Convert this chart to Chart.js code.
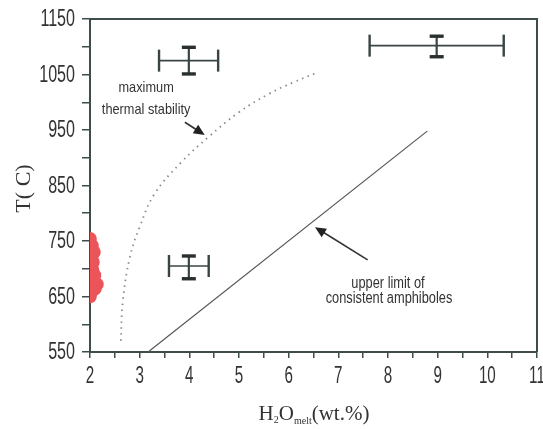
<!DOCTYPE html>
<html>
<head>
<meta charset="utf-8">
<script src="https://cdn.jsdelivr.net/npm/chart.js@4.4.0/dist/chart.umd.min.js"></script>
<style>
  html,body{margin:0;padding:0;background:#fff;overflow:hidden;}
  #wrap{width:543px;height:429px;position:relative;}
</style>
</head>
<body>
<div id="wrap"><canvas id="c"></canvas></div>
<script>
// ---- data ----
const redX = [2.00, 2.04, 2.08, 2.03, 1.99, 2.05, 2.09, 2.00, 2.14, 2.10, 2.04, 2.00, 2.06];
const redY = [754, 742, 730, 716, 704, 698, 688, 678, 672, 664, 660, 650, 712];

const stabX = [2.62, 2.66, 2.80, 3.00, 3.30, 3.85, 4.38, 5.00, 5.60, 6.10, 6.59];
const stabY = [570, 640, 720, 775, 835, 893, 937, 982, 1015, 1036, 1054];

const limitX = [3.17, 8.79];
const limitY = [550, 948];

// error crosses
const errX   = [3.99, 8.98, 3.99];
const errXLo = [3.39, 7.63, 3.59];
const errXHi = [4.58, 10.33, 4.39];
const errY   = [1075, 1102, 705];
const errYLo = [1051, 1082, 682];
const errYHi = [1099, 1119, 723];

const xTicks = [2, 3, 4, 5, 6, 7, 8, 9, 10, 11];
const yTicks = [550, 650, 750, 850, 950, 1050, 1150];

// annotations (data coords)
const noteText = ['maximum', 'thermal stability', 'upper limit of', 'consistent amphiboles'];
const noteX = [3.13, 3.13, 8.0, 8.02];
const noteY = [1026, 986, 674, 647];
const arrowFrom = [[3.91, 964], [7.59, 716]];
const arrowTo   = [[4.31, 941], [6.53, 775]];

const AX = '#3f4c4c';
const SANS = "'Liberation Sans', Arial, sans-serif";
const SERIF = "'Liberation Serif', 'DejaVu Serif', serif";

// narrow text: normal sans squeezed horizontally
function narrowText(ctx, t, x, y, sx, align){
  ctx.save();
  ctx.translate(x, y);
  ctx.scale(sx, 1);
  ctx.textAlign = align;
  ctx.fillText(t, 0, 0);
  ctx.restore();
}

const datasets = [];
datasets.push({
  type:'line', label:'stability',
  data: stabX.map((x,i)=>({x, y:stabY[i]})),
  borderColor:'#8a8a8a', borderWidth:1.8, borderDash:[1.5,4.5],
  pointRadius:0, tension:0.4, fill:false
});
datasets.push({
  type:'line', label:'limit',
  data: limitX.map((x,i)=>({x, y:limitY[i]})),
  borderColor:'#555', borderWidth:1.2, pointRadius:0, fill:false
});
errX.forEach((x,i)=>{
  datasets.push({
    type:'line', label:'errH'+i,
    data:[{x:errXLo[i], y:errY[i]}, {x:errXHi[i], y:errY[i]}],
    borderColor:'#3a4444', borderWidth:1.6,
    pointStyle:'line', rotation:90, pointRadius:11,
    pointBorderColor:'#3a4444', pointBorderWidth:2.4, pointHoverRadius:11
  });
  datasets.push({
    type:'line', label:'errV'+i,
    data:[{x, y:errYLo[i]}, {x, y:errYHi[i]}],
    borderColor:'#3a4444', borderWidth:2.2,
    pointStyle:'line', rotation:0, pointRadius:7,
    pointBorderColor:'#2a3030', pointBorderWidth:3.4, pointHoverRadius:7
  });
});
datasets.push({
  type:'scatter', label:'samples',
  data: redX.map((x,i)=>({x, y:redY[i]})),
  backgroundColor:'#eb5458', borderWidth:0, pointRadius:6.8
});

const overlay = {
  id:'overlay',
  afterDraw(chart){
    const {ctx, chartArea:a, scales:{x, y}} = chart;
    ctx.save();
    // top and right frame
    ctx.strokeStyle = AX; ctx.lineWidth = 2;
    ctx.beginPath();
    ctx.moveTo(a.left, a.top); ctx.lineTo(a.right, a.top); ctx.lineTo(a.right, a.bottom);
    ctx.stroke();

    // tick labels (condensed look)
    ctx.fillStyle = '#333';
    ctx.font = '23px ' + SANS;
    ctx.textBaseline = 'middle';
    yTicks.forEach(v => narrowText(ctx, String(v), 75, y.getPixelForValue(v) + 1, 0.7, 'right'));
    xTicks.forEach(v => narrowText(ctx, String(v), x.getPixelForValue(v), 377, 0.66, 'center'));

    // arrows
    ctx.strokeStyle = '#333'; ctx.fillStyle = '#222'; ctx.lineWidth = 1.6;
    arrowFrom.forEach((f,i)=>{
      const x0 = x.getPixelForValue(f[0]), y0 = y.getPixelForValue(f[1]);
      const x1 = x.getPixelForValue(arrowTo[i][0]), y1 = y.getPixelForValue(arrowTo[i][1]);
      const ang = Math.atan2(y1-y0, x1-x0);
      const L = 11, W = 5;
      ctx.beginPath(); ctx.moveTo(x0, y0);
      ctx.lineTo(x1 - Math.cos(ang)*L*0.8, y1 - Math.sin(ang)*L*0.8); ctx.stroke();
      ctx.beginPath();
      ctx.moveTo(x1, y1);
      ctx.lineTo(x1 - Math.cos(ang)*L - Math.sin(ang)*W, y1 - Math.sin(ang)*L + Math.cos(ang)*W);
      ctx.lineTo(x1 - Math.cos(ang)*L + Math.sin(ang)*W, y1 - Math.sin(ang)*L - Math.cos(ang)*W);
      ctx.closePath(); ctx.fill();
    });

    // notes
    ctx.fillStyle = '#333'; ctx.textBaseline = 'middle';
    noteText.forEach((t,i)=>{
      ctx.font = (i < 2 ? '15px ' : '16px ') + SANS;
      narrowText(ctx, t, x.getPixelForValue(noteX[i]), y.getPixelForValue(noteY[i]), i < 2 ? 0.85 : 0.8, 'center');
    });

    // y title
    ctx.save();
    ctx.translate(24, (a.top + a.bottom)/2 + 3);
    ctx.rotate(-Math.PI/2);
    ctx.font = '22px ' + SERIF;
    ctx.fillStyle = '#333';
    ctx.textAlign = 'center';
    ctx.fillText('T( C)', 0, 0);
    ctx.restore();

    // x title with subscripts
    const big = '21px ' + SERIF;
    const small = '10px ' + SERIF;
    const parts = [['H',big,0],['2',small,3],['O',big,0],['melt',small,4],['(wt.%)',big,0]];
    let w = 0;
    parts.forEach(p=>{ ctx.font = p[1]; w += ctx.measureText(p[0]).width; });
    let cx = 314 - w/2;
    const base = 420;
    ctx.textAlign = 'left'; ctx.textBaseline = 'alphabetic';
    parts.forEach(p=>{
      ctx.font = p[1];
      ctx.fillText(p[0], cx, base + p[2]);
      cx += ctx.measureText(p[0]).width;
    });
    ctx.restore();
  }
};

new Chart(document.getElementById('c'), {
  type:'scatter',
  data:{datasets},
  options:{
    responsive:true, maintainAspectRatio:false, animation:false,
    layout:{autoPadding:false, padding:{left:0, top:19, right:6, bottom:0}},
    plugins:{legend:{display:false}, tooltip:{enabled:false}},
    scales:{
      x:{
        type:'linear', min:2, max:11,
        border:{color:AX, width:2},
        grid:{drawOnChartArea:false, color:AX, tickLength:6, lineWidth:1.5},
        ticks:{stepSize:0.5, autoSkip:false, maxRotation:0, display:false},
        afterFit:s => { s.height = 77; s.paddingRight = 0; s.paddingLeft = 0; }
      },
      y:{
        type:'linear', min:550, max:1150,
        border:{color:AX, width:2},
        grid:{drawOnChartArea:false, color:AX, tickLength:8, lineWidth:1.5},
        ticks:{stepSize:50, autoSkip:false, display:false},
        afterFit:s => { s.width = 90; s.paddingTop = 0; s.paddingBottom = 0; }
      }
    }
  },
  plugins:[overlay]
});
</script>
</body>
</html>
